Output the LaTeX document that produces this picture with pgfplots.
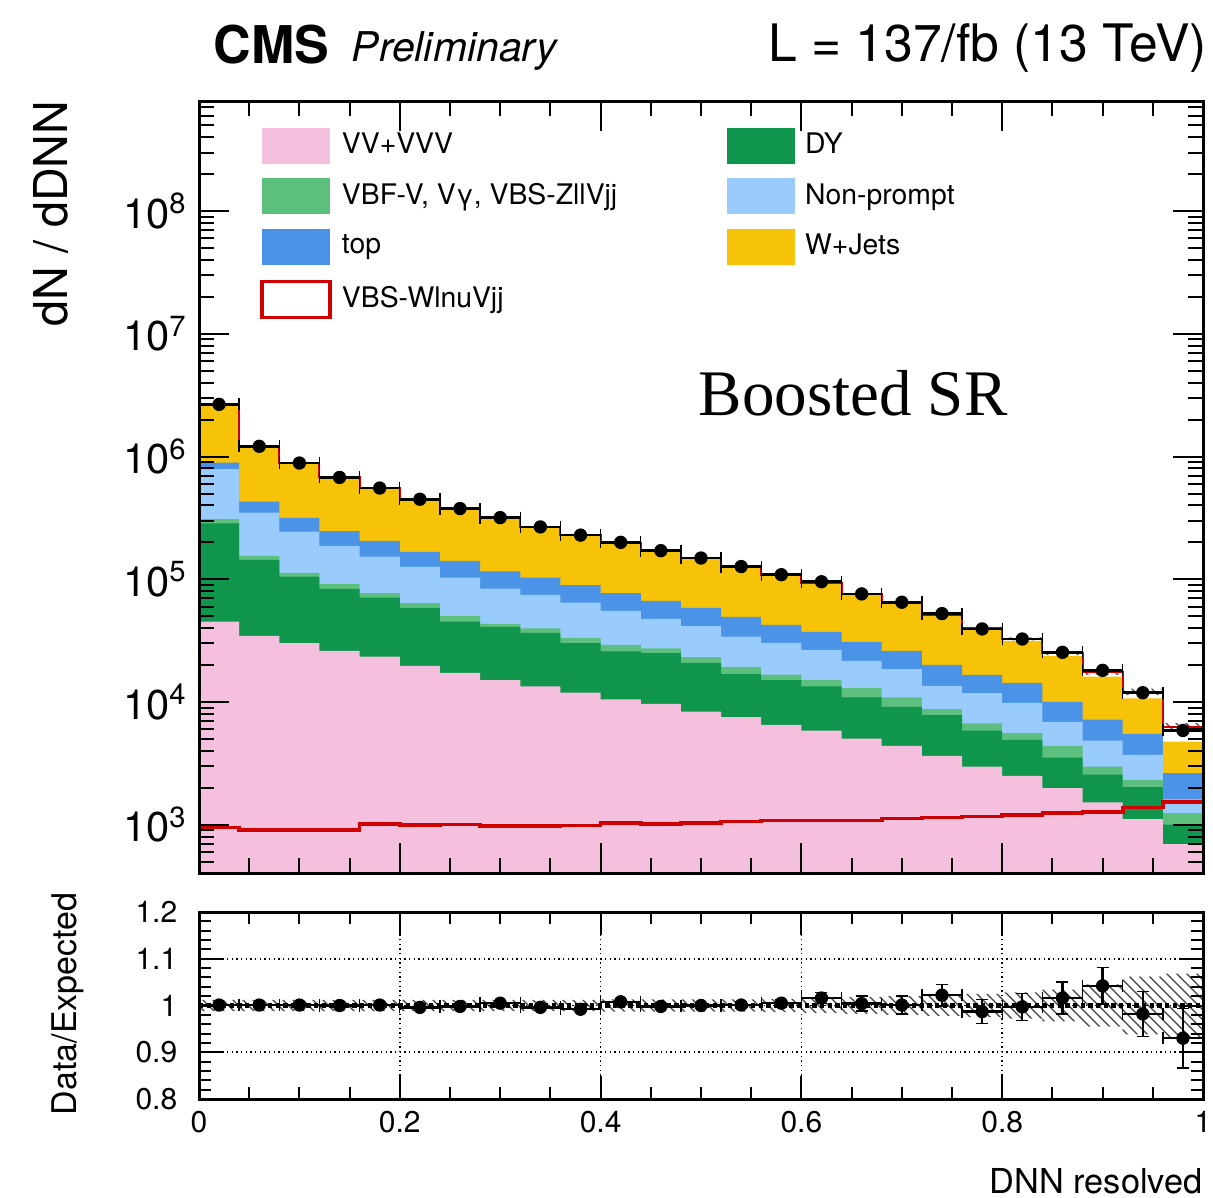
\documentclass[border=0pt]{standalone}
\usepackage{fontspec}
\setmainfont{TeX Gyre Heros}
\newfontfamily\labelserif{Liberation Serif}
\usepackage{pgfplots}
\pgfplotsset{compat=1.18}
\usepackage{pgfplotstable}
\usepgfplotslibrary{fillbetween}
\usetikzlibrary{patterns}

\definecolor{cvv}{HTML}{F5BFDE}
\definecolor{cdy}{HTML}{10964C}
\definecolor{cvbf}{HTML}{5DBF7E}
\definecolor{cnp}{HTML}{9ACBFD}
\definecolor{ctop}{HTML}{4A93E6}
\definecolor{cwj}{HTML}{F6C308}
\definecolor{csig}{HTML}{D00000}

% cumulative stack tops per bin (left edge), last row repeats bin 25
\pgfplotstableread{
x     vv      dy      vbf     np      top     wj      sig    tot     unc
0.00  4.52e4  2.86e5  3.09e5  7.90e5  8.94e5  2.66e6  946    2.661e6 0.012
0.04  3.46e4  1.44e5  1.55e5  3.50e5  4.30e5  1.21e6  906    1.211e6 0.012
0.08  3.02e4  1.05e5  1.13e5  2.45e5  3.16e5  8.84e5  906    8.85e5  0.012
0.12  2.61e4  8.36e4  9.12e4  1.87e5  2.47e5  6.75e5  909    6.76e5  0.012
0.16  2.34e4  7.10e4  7.71e4  1.53e5  2.06e5  5.52e5  1009   5.53e5  0.012
0.20  1.97e4  5.85e4  6.38e4  1.26e5  1.67e5  4.50e5  990    4.51e5  0.012
0.24  1.73e4  4.52e4  5.03e4  1.03e5  1.41e5  3.77e5  1005   3.78e5  0.012
0.28  1.51e4  4.10e4  4.33e4  8.39e4  1.16e5  3.15e5  980    3.16e5  0.012
0.32  1.34e4  3.65e4  3.99e4  7.46e4  1.03e5  2.67e5  980    2.68e5  0.012
0.36  1.19e4  3.02e4  3.33e4  6.46e4  8.96e4  2.30e5  985    2.31e5  0.012
0.40  1.05e4  2.58e4  2.92e4  5.54e4  7.71e4  1.97e5  1029   1.98e5  0.013
0.44  9.66e3  2.50e4  2.74e4  4.75e4  6.67e4  1.70e5  1014   1.71e5  0.013
0.48  8.36e3  2.08e4  2.32e4  4.15e4  5.85e4  1.48e5  1028   1.49e5  0.013
0.52  7.52e3  1.69e4  1.93e4  3.41e4  4.94e4  1.26e5  1059   1.27e5  0.013
0.56  6.50e3  1.51e4  1.67e4  3.03e4  4.25e4  1.07e5  1080   1.08e5  0.014
0.60  5.85e3  1.34e4  1.51e4  2.66e4  3.72e4  9.29e4  1080   9.40e4  0.016
0.64  5.04e3  1.09e4  1.30e4  2.16e4  3.09e4  7.46e4  1080   7.57e4  0.018
0.68  4.39e3  9.12e3  1.09e4  1.85e4  2.61e4  6.38e4  1122   6.49e4  0.020
0.72  3.64e3  7.80e3  8.73e3  1.35e4  2.01e4  5.03e4  1143   5.14e4  0.022
0.76  2.98e3  5.85e3  6.71e3  1.18e4  1.66e4  3.87e4  1164   3.99e4  0.025
0.80  2.50e3  4.91e3  5.57e3  9.84e3  1.43e4  3.15e4  1194   3.27e4  0.028
0.84  1.99e3  3.52e3  4.39e3  6.88e3  1.00e4  2.38e4  1241   2.50e4  0.034
0.88  1.52e3  2.56e3  2.98e3  4.84e3  7.19e3  1.61e4  1270   1.74e4  0.045
0.92  1.11e3  2.02e3  2.32e3  3.71e3  5.50e3  1.07e4  1380   1.21e4  0.062
0.96  693     1.00e3  1.24e3  1.61e3  2.63e3  4.76e3  1540   6.30e3  0.068
1.00  693     1.00e3  1.24e3  1.61e3  2.63e3  4.76e3  1540   6.30e3  0.068
}\stack

\pgfplotstableread{
xc    data     ratio  rerr
0.02  2.664e6  1.001  0.003
0.06  1.212e6  1.001  0.003
0.10  8.86e5   1.001  0.003
0.14  6.76e5   1.000  0.003
0.18  5.54e5   1.001  0.003
0.22  4.49e5   0.996  0.004
0.26  3.77e5   0.998  0.004
0.30  3.18e5   1.005  0.004
0.34  2.67e5   0.996  0.004
0.38  2.29e5   0.992  0.004
0.42  2.00e5   1.008  0.005
0.46  1.71e5   0.998  0.005
0.50  1.49e5   1.000  0.005
0.54  1.27e5   1.001  0.008
0.58  1.09e5   1.005  0.008
0.62  9.55e4   1.016  0.012
0.66  7.60e4   1.004  0.016
0.70  6.50e4   1.001  0.019
0.74  5.25e4   1.022  0.023
0.78  3.94e4   0.987  0.026
0.82  3.26e4   0.997  0.029
0.86  2.54e4   1.016  0.034
0.90  1.81e4   1.042  0.039
0.94  1.19e4   0.982  0.048
0.98  5.86e3   0.930  0.064
}\points

\begin{document}
\begin{tikzpicture}
\pgfplotsset{
  cms/.style={
    scale only axis, width=301.2pt, xmin=0, xmax=1,
    axis on top,
    axis line style={line width=0.9pt},
    tick style={line width=0.6pt, black},
    tick align=inside,
    xtick={0,0.2,0.4,0.6,0.8,1}, minor x tick num=3,
  },
  every axis legend/.append style={font=\fontsize{8.5}{10}\selectfont},
}
\begin{axis}[cms, name=up, at={(0,67.8pt)}, anchor=south west,
  height=231.6pt, ymode=log, log basis y=10, ymin=404, ymax=7.9e8,
  xticklabels={},
  major tick length=9pt, minor tick length=4.5pt,
  ytick={1e3,1e4,1e5,1e6,1e7,1e8},
  minor ytick={5e2,6e2,7e2,8e2,9e2,
    2e3,3e3,4e3,5e3,6e3,7e3,8e3,9e3,
    2e4,3e4,4e4,5e4,6e4,7e4,8e4,9e4,
    2e5,3e5,4e5,5e5,6e5,7e5,8e5,9e5,
    2e6,3e6,4e6,5e6,6e6,7e6,8e6,9e6,
    2e7,3e7,4e7,5e7,6e7,7e7,8e7,9e7,
    2e8,3e8,4e8,5e8,6e8,7e8},
  yticklabel={\pgfmathparse{int(round(\tick))}10\textsuperscript{\pgfmathresult}},
  yticklabel style={font=\fontsize{12.5}{14}\selectfont},
  legend columns=2,
  legend cell align=left,
  legend image code/.code={\path[#1] (0pt,-5.4pt) rectangle (20.4pt,5.4pt);},
  legend style={draw=none, fill=none, inner sep=0pt,
    at={(axis description cs:0.0604,0.9663)}, anchor=north west,
    nodes={inner sep=1pt}, row sep=4.4pt,
    /tikz/every odd column/.append style={column sep=2pt},
    /tikz/every even column/.append style={column sep=32pt}},
]
\addlegendimage{fill=cvv, draw=none}\addlegendentry{VV+VVV}
\addlegendimage{fill=cdy, draw=none}\addlegendentry{DY}
\addlegendimage{fill=cvbf, draw=none}\addlegendentry{VBF-V, Vγ, VBS-ZllVjj}
\addlegendimage{fill=cnp, draw=none}\addlegendentry{Non-prompt}
\addlegendimage{fill=ctop, draw=none}\addlegendentry{top}
\addlegendimage{fill=cwj, draw=none}\addlegendentry{W+Jets}
\addlegendimage{fill=white, draw=csig, line width=1.1pt}\addlegendentry{VBS-WlnuVjj}

\addplot[const plot mark left, fill=cwj, draw=none, forget plot] table[x=x,y=wj]{\stack} \closedcycle;
\addplot[const plot mark left, fill=ctop, draw=none, forget plot] table[x=x,y=top]{\stack} \closedcycle;
\addplot[const plot mark left, fill=cnp, draw=none, forget plot] table[x=x,y=np]{\stack} \closedcycle;
\addplot[const plot mark left, fill=cvbf, draw=none, forget plot] table[x=x,y=vbf]{\stack} \closedcycle;
\addplot[const plot mark left, fill=cdy, draw=none, forget plot] table[x=x,y=dy]{\stack} \closedcycle;
\addplot[const plot mark left, fill=cvv, draw=none, forget plot] table[x=x,y=vv]{\stack} \closedcycle;
\addplot[const plot mark left, csig, line width=1.1pt, forget plot] table[x=x,y=sig]{\stack};
\addplot[name path=tup, const plot mark left, draw=none, forget plot]
  table[x=x, y expr=\thisrow{tot}*(1+\thisrow{unc})]{\stack};
\addplot[name path=tlo, const plot mark left, draw=none, forget plot]
  table[x=x, y expr=\thisrow{tot}*(1-\thisrow{unc})]{\stack};
\addplot[pattern=north west lines, pattern color=black!70, draw=none, forget plot]
  fill between[of=tup and tlo];
\addplot[const plot mark left, csig, line width=0.6pt, forget plot] table[x=x,y=tot]{\stack};
\addplot[only marks, mark=*, mark size=1.8pt, black, forget plot,
  error bars/.cd, x dir=both, x fixed=0.02,
  error bar style={line width=0.8pt, black}]
  table[x=xc,y=data]{\points};
\end{axis}

\begin{axis}[cms, name=lo, at={(0,0)}, anchor=south west,
  height=56.1pt, ymin=0.8, ymax=1.2,
  major tick length=7pt, minor tick length=3.5pt,
  ytick={0.8,0.9,1,1.1,1.2}, yticklabels={0.8,0.9,1,1.1,1.2},
  minor y tick num=4,
  xticklabels={0,0.2,0.4,0.6,0.8,1},
  ticklabel style={font=\fontsize{9}{10}\selectfont},
  yticklabel style={xshift=-3pt},
  grid=major, major grid style={densely dotted, black, line width=0.5pt},
]
\addplot[name path=bup, const plot mark left, draw=none, forget plot]
  table[x=x, y expr=1+\thisrow{unc}]{\stack};
\addplot[name path=blo, const plot mark left, draw=none, forget plot]
  table[x=x, y expr=1-\thisrow{unc}]{\stack};
\addplot[pattern=north west lines, pattern color=black!75, draw=none, forget plot]
  fill between[of=bup and blo];
\addplot[black, densely dotted, line width=1.3pt, forget plot] coordinates {(0,1) (1,1)};
\addplot[only marks, mark=*, mark size=1.8pt, black, forget plot,
  error bars/.cd, x dir=both, x fixed=0.02, y dir=both, y explicit,
  error bar style={line width=0.7pt, black}]
  table[x=xc, y=ratio, y error=rerr]{\points};
\end{axis}

\node[anchor=base west, inner sep=0pt, font=\fontsize{15.6}{18}\selectfont\bfseries] at (4.2pt,310.5pt) {CMS};
\node[anchor=base west, inner sep=0pt, font=\fontsize{12.3}{14}\selectfont\itshape] at (45.6pt,311.1pt) {Preliminary};
\node[anchor=base east, inner sep=0pt, font=\fontsize{15.5}{18}\selectfont] at (302.6pt,311.1pt) {L = 137/fb (13 TeV)};
\node[anchor=base west, inner sep=0pt, font=\fontsize{19.5}{22}\selectfont\labelserif] at (149.7pt,204.9pt) {Boosted SR};
\node[rotate=90, anchor=base east, inner sep=0pt, font=\fontsize{14}{16}\selectfont] at (-39.3pt,299.7pt) {dN / dDNN};
\node[rotate=90, anchor=base, inner sep=0pt, font=\fontsize{10.2}{12}\selectfont] at (-36.8pt,28.5pt) {Data/Expected};
\node[anchor=base east, inner sep=0pt, font=\fontsize{10.3}{12}\selectfont] at (301.2pt,-28.2pt) {DNN resolved};

\pgfresetboundingbox
\useasboundingbox (-59.7pt,-29.4pt) rectangle (304.2pt,329.7pt);
\end{tikzpicture}
\end{document}
